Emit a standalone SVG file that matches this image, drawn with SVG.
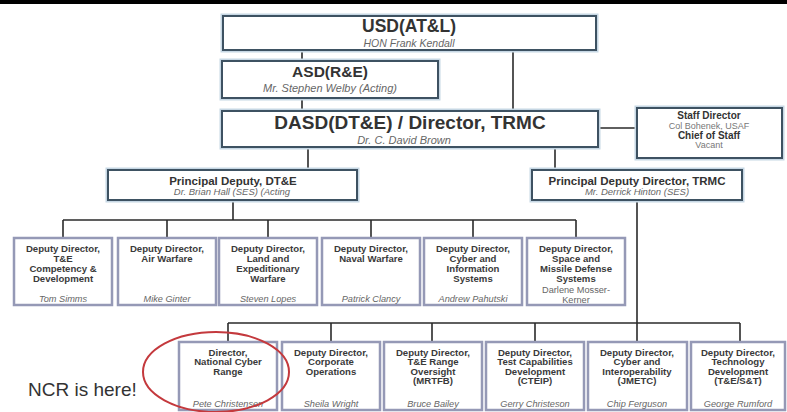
<svg xmlns="http://www.w3.org/2000/svg" width="787" height="412" viewBox="0 0 787 412">
<style>
.halo{fill:none;stroke:#c6d7e4;stroke-width:5}
.main{fill:#fff;stroke:#3e5262;stroke-width:2}
.sub{fill:#fff;stroke:#9599b6;stroke-width:2.5}
.t{font-family:"Liberation Sans",Arial,sans-serif;text-anchor:middle;fill:#333}
.b{font-weight:bold}
.i{font-style:italic;fill:#666}
.g{fill:#777}
.c{fill:none;stroke:#2b2b2b;stroke-width:1.6}
.rt{font-family:"Liberation Sans",Arial,sans-serif;text-anchor:middle;fill:#3a3a3a;font-weight:bold;font-size:9.6px}
.rn{font-family:"Liberation Sans",Arial,sans-serif;text-anchor:middle;fill:#666;font-style:italic;font-size:9.2px}
</style>
<rect x="0" y="0" width="787" height="412" fill="#fff"/>
<rect x="0" y="0" width="787" height="4" fill="#000"/>

<g id="connectors" class="c">
<path d="M302 50V61M513 50V111M302 98V111M308 147V170M555 147V170M598 128H637"/>
<path d="M233 200V220M63 220H576M63 220V238M167 220V238M268 220V238M371 220V238M473 220V238M576 220V238"/>
<path d="M637 200V342M228 323H740M228 323V342M331 323V342M432 323V342M535 323V342M740 323V342"/>
</g>

<g id="usd">
<rect class="halo" x="223" y="16" width="373" height="34"/>
<rect class="main" x="223" y="16" width="373" height="34"/>
<text class="t b" x="409" y="32" font-size="17.5">USD(AT&amp;L)</text>
<text class="t i" x="409" y="46.5" font-size="10.5">HON Frank Kendall</text>
</g>

<g id="asd">
<rect class="halo" x="222" y="61" width="216" height="37"/>
<rect class="main" x="222" y="61" width="216" height="37"/>
<text class="t b" x="330" y="77" font-size="15.5">ASD(R&amp;E)</text>
<text class="t i" x="330" y="92" font-size="11">Mr. Stephen Welby (Acting)</text>
</g>

<g id="dasd">
<rect class="halo" x="222" y="111" width="376" height="36"/>
<rect class="main" x="222" y="111" width="376" height="36"/>
<text class="t b" x="410" y="129" font-size="19">DASD(DT&amp;E) / Director, TRMC</text>
<text class="t i" x="404" y="144" font-size="11">Dr. C. David Brown</text>
</g>

<g id="staff">
<rect class="halo" x="637" y="108" width="145" height="50"/>
<rect class="main" x="637" y="108" width="145" height="50"/>
<text class="t b" x="709" y="118.5" font-size="10">Staff Director</text>
<text class="t g" x="709" y="128.5" font-size="9">Col Bohenek, USAF</text>
<text class="t b" x="709" y="138.5" font-size="10">Chief of Staff</text>
<text class="t g" x="709" y="148" font-size="9">Vacant</text>
</g>

<g id="pd-dte">
<rect class="halo" x="108" y="170" width="249" height="30"/>
<rect class="main" x="108" y="170" width="249" height="30"/>
<text class="t b" x="233" y="185" font-size="11.5">Principal Deputy,  DT&amp;E</text>
<text class="t i" x="232" y="195" font-size="9.5">Dr. Brian Hall (SES) (Acting</text>
</g>

<g id="pd-trmc">
<rect class="halo" x="532" y="170" width="210" height="30"/>
<rect class="main" x="532" y="170" width="210" height="30"/>
<text class="t b" x="637" y="185" font-size="11.5">Principal Deputy Director, TRMC</text>
<text class="t i" x="637" y="195" font-size="9.5">Mr. Derrick Hinton (SES)</text>
</g>

<g id="dd-tecd">
<rect class="sub" x="14" y="238" width="98" height="67"/>
<text class="rt" x="63"><tspan x="63" y="251.5">Deputy Director,</tspan><tspan x="63" y="261.8">T&amp;E</tspan><tspan x="63" y="272.1">Competency &amp;</tspan><tspan x="63" y="282.4">Development</tspan></text>
<text class="rn" x="63" y="301.5">Tom Simms</text>
</g>
<g id="dd-air">
<rect class="sub" x="118" y="238" width="98" height="67"/>
<text class="rt" x="167"><tspan x="167" y="251.5">Deputy Director,</tspan><tspan x="167" y="261.8">Air Warfare</tspan></text>
<text class="rn" x="167" y="301.5">Mike Ginter</text>
</g>
<g id="dd-land">
<rect class="sub" x="219" y="238" width="98" height="67"/>
<text class="rt" x="268"><tspan x="268" y="251.5">Deputy Director,</tspan><tspan x="268" y="261.8">Land and</tspan><tspan x="268" y="272.1">Expeditionary</tspan><tspan x="268" y="282.4">Warfare</tspan></text>
<text class="rn" x="268" y="301.5">Steven Lopes</text>
</g>
<g id="dd-naval">
<rect class="sub" x="322" y="238" width="98" height="67"/>
<text class="rt" x="371"><tspan x="371" y="251.5">Deputy Director,</tspan><tspan x="371" y="261.8">Naval Warfare</tspan></text>
<text class="rn" x="371" y="301.5">Patrick Clancy</text>
</g>
<g id="dd-cyber-is">
<rect class="sub" x="424" y="238" width="98" height="67"/>
<text class="rt" x="473"><tspan x="473" y="251.5">Deputy Director,</tspan><tspan x="473" y="261.8">Cyber and</tspan><tspan x="473" y="272.1">Information</tspan><tspan x="473" y="282.4">Systems</tspan></text>
<text class="rn" x="473" y="301.5">Andrew Pahutski</text>
</g>
<g id="dd-space">
<rect class="sub" x="527" y="238" width="98" height="67"/>
<text class="rt" x="576"><tspan x="576" y="251.5">Deputy Director,</tspan><tspan x="576" y="261.8">Space and</tspan><tspan x="576" y="272.1">Missile Defense</tspan><tspan x="576" y="282.4">Systems</tspan></text>
<text class="rn" x="576" style="font-style:normal"><tspan x="576" y="292.5">Darlene Mosser-</tspan><tspan x="576" y="302.5">Kerner</tspan></text>
</g>

<g id="ncr">
<rect class="sub" x="179" y="342" width="98" height="68"/>
<text class="rt" x="228"><tspan x="228" y="355.5">Director,</tspan><tspan x="228" y="365">National Cyber</tspan><tspan x="228" y="374.5">Range</tspan></text>
<text class="rn" x="228" y="406.5">Pete Christensen</text>
</g>
<g id="dd-corp">
<rect class="sub" x="282" y="342" width="98" height="68"/>
<text class="rt" x="331"><tspan x="331" y="355.5">Deputy Director,</tspan><tspan x="331" y="365">Corporate</tspan><tspan x="331" y="374.5">Operations</tspan></text>
<text class="rn" x="331" y="406.5">Sheila Wright</text>
</g>
<g id="dd-range">
<rect class="sub" x="384" y="342" width="98" height="68"/>
<text class="rt" x="433"><tspan x="433" y="355.5">Deputy Director,</tspan><tspan x="433" y="365">T&amp;E Range</tspan><tspan x="433" y="374.5">Oversight</tspan><tspan x="433" y="384">(MRTFB)</tspan></text>
<text class="rn" x="433" y="406.5">Bruce Bailey</text>
</g>
<g id="dd-test">
<rect class="sub" x="486" y="342" width="98" height="68"/>
<text class="rt" x="535"><tspan x="535" y="355.5">Deputy Director,</tspan><tspan x="535" y="365">Test Capabilities</tspan><tspan x="535" y="374.5">Development</tspan><tspan x="535" y="384">(CTEIP)</tspan></text>
<text class="rn" x="535" y="406.5">Gerry Christeson</text>
</g>
<g id="dd-jmetc">
<rect class="sub" x="588" y="342" width="99" height="68"/>
<text class="rt" x="637"><tspan x="637" y="355.5">Deputy Director,</tspan><tspan x="637" y="365">Cyber and</tspan><tspan x="637" y="374.5">Interoperability</tspan><tspan x="637" y="384">(JMETC)</tspan></text>
<text class="rn" x="637" y="406.5">Chip Ferguson</text>
</g>
<g id="dd-tech">
<rect class="sub" x="691" y="342" width="94" height="68"/>
<text class="rt" x="738"><tspan x="738" y="355.5">Deputy Director,</tspan><tspan x="738" y="365">Technology</tspan><tspan x="738" y="374.5">Development</tspan><tspan x="738" y="384">(T&amp;E/S&amp;T)</tspan></text>
<text class="rn" x="738" y="406.5">George Rumford</text>
</g>

<g id="callout">
<ellipse cx="216" cy="372" rx="73" ry="40" fill="none" stroke="#c4393d" stroke-width="2"/>
<text x="28" y="396" font-family="'Liberation Sans',Arial,sans-serif" font-size="19" fill="#333">NCR is here!</text>
</g>
</svg>
